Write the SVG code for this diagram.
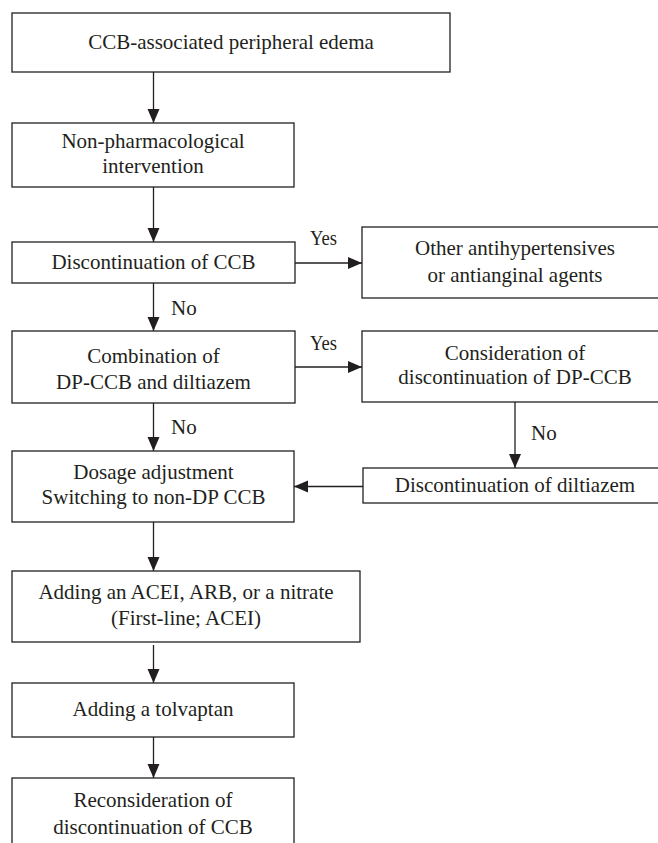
<svg xmlns="http://www.w3.org/2000/svg" width="658" height="843" viewBox="0 0 658 843">
<style>
.box{fill:#fff;stroke:#231f20;stroke-width:1.3}
text{font-family:'Liberation Serif','DejaVu Serif',serif;font-size:21px;fill:#231f20}
.t{text-anchor:middle}
.c{stroke:#231f20;stroke-width:1.3;fill:none;marker-end:url(#ah)}
</style>
<defs>
<marker id="ah" markerUnits="userSpaceOnUse" markerWidth="14" markerHeight="14" viewBox="0 0 14 12" refX="14" refY="6" orient="auto">
<path d="M0,0 L14,6 L0,12 Z" fill="#231f20"/>
</marker>
</defs>
<rect width="658" height="843" fill="#fff"/>
<g id="connectors">
<line class="c" x1="153.5" y1="72" x2="153.5" y2="123"/>
<line class="c" x1="153.5" y1="187" x2="153.5" y2="242"/>
<line class="c" x1="295" y1="263" x2="362" y2="263"/>
<line class="c" x1="153.5" y1="283" x2="153.5" y2="331"/>
<line class="c" x1="295" y1="367" x2="362" y2="367"/>
<line class="c" x1="153.5" y1="403" x2="153.5" y2="451"/>
<line class="c" x1="515" y1="402" x2="515" y2="468"/>
<line class="c" x1="363" y1="486.5" x2="294" y2="486.5"/>
<line class="c" x1="153.5" y1="522" x2="153.5" y2="571"/>
<line class="c" x1="153.5" y1="645" x2="153.5" y2="683"/>
<line class="c" x1="153.5" y1="737" x2="153.5" y2="778"/>
<text x="310" y="245" textLength="27" lengthAdjust="spacingAndGlyphs">Yes</text>
<text x="310" y="350" textLength="27" lengthAdjust="spacingAndGlyphs">Yes</text>
<text x="171" y="315">No</text>
<text x="171" y="434">No</text>
<text x="531" y="440">No</text>
</g>
<g id="n1"><rect class="box" x="12" y="13" width="438" height="59"/><text class="t" x="231" y="49">CCB-associated peripheral edema</text></g>
<g id="n2"><rect class="box" x="12" y="123" width="282" height="64"/><text class="t" x="153" y="148">Non-pharmacological</text><text class="t" x="153" y="173">intervention</text></g>
<g id="n3"><rect class="box" x="12" y="242" width="283" height="41"/><text class="t" x="153.5" y="269">Discontinuation of CCB</text></g>
<g id="n4"><rect class="box" x="362" y="227" width="300" height="71"/><text class="t" x="515" y="255">Other antihypertensives</text><text class="t" x="515" y="282">or antianginal agents</text></g>
<g id="n5"><rect class="box" x="12" y="331" width="283" height="72"/><text class="t" x="153.5" y="363">Combination of</text><text class="t" x="153.5" y="389">DP-CCB and diltiazem</text></g>
<g id="n6"><rect class="box" x="362" y="331" width="300" height="71"/><text class="t" x="515" y="360">Consideration of</text><text class="t" x="515" y="384">discontinuation of DP-CCB</text></g>
<g id="n7"><rect class="box" x="12" y="451" width="282" height="71"/><text class="t" x="153.5" y="479">Dosage adjustment</text><text class="t" x="153.5" y="504">Switching to non-DP CCB</text></g>
<g id="n8"><rect class="box" x="363" y="468" width="300" height="35"/><text class="t" x="515" y="492">Discontinuation of diltiazem</text></g>
<g id="n9"><rect class="box" x="12" y="571" width="348" height="71"/><text class="t" x="186" y="599">Adding an ACEI, ARB, or a nitrate</text><text class="t" x="186" y="625">(First-line; ACEI)</text></g>
<g id="n10"><rect class="box" x="12" y="683" width="282" height="54"/><text class="t" x="153" y="716">Adding a tolvaptan</text></g>
<g id="n11"><rect class="box" x="12" y="778" width="282" height="80"/><text class="t" x="153" y="807">Reconsideration of</text><text class="t" x="153" y="834">discontinuation of CCB</text></g>
</svg>
